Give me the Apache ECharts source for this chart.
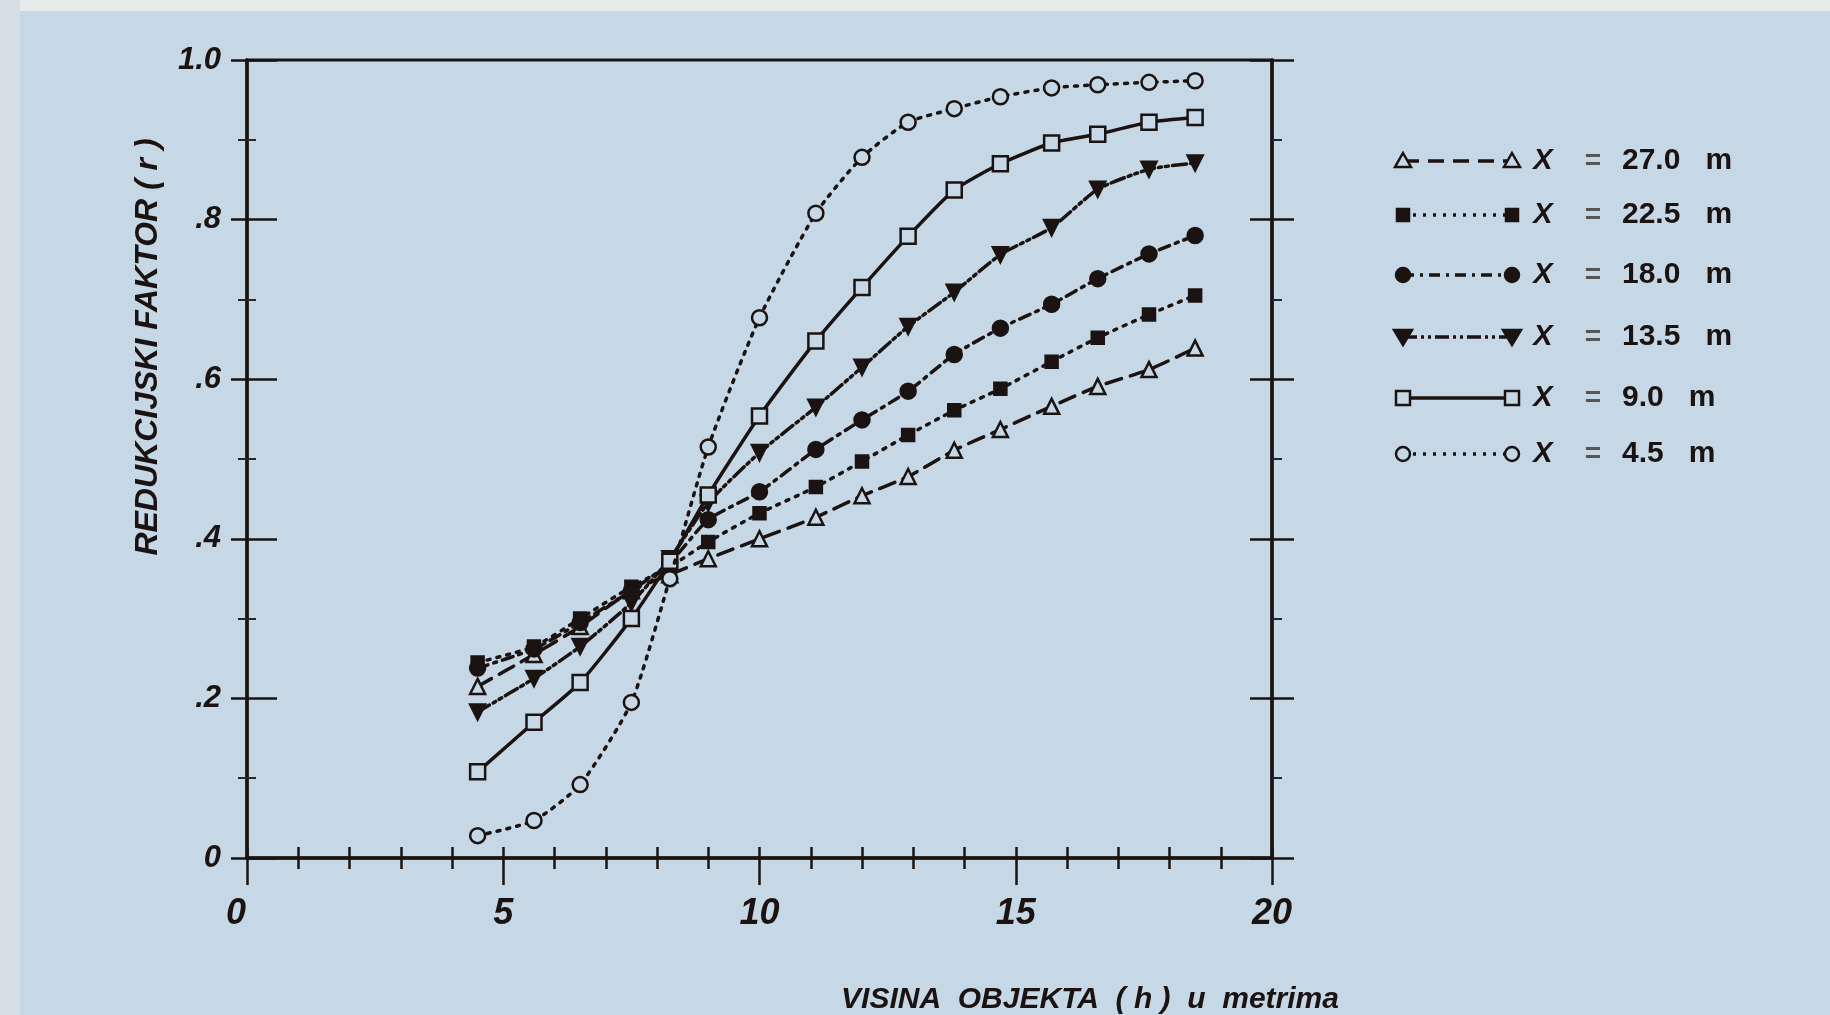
<!DOCTYPE html>
<html>
<head>
<meta charset="utf-8">
<script src="https://cdn.jsdelivr.net/npm/echarts@6/dist/echarts.min.js"></script>
<style>
  html, body { margin: 0; padding: 0; background: #c6d8e6; }
  #chart { width: 1830px; height: 1015px; }
</style>
</head>
<body>
<div id="chart"></div>
<script>
// visina objekta h (m), x positions of the points
var hValues = [4.5, 5.6, 6.5, 7.5, 8.25, 9.0, 10.0, 11.1, 12.0, 12.9, 13.8, 14.7, 15.7, 16.6, 17.6, 18.5];

// redukcijski faktor r, one list per distance X
var r27 = [0.215, 0.255, 0.29, 0.335, 0.355, 0.375, 0.40, 0.427, 0.454, 0.478, 0.511, 0.537, 0.566, 0.591, 0.612, 0.639];
var r225 = [0.245, 0.265, 0.30, 0.34, 0.365, 0.396, 0.432, 0.465, 0.497, 0.53, 0.561, 0.588, 0.622, 0.652, 0.681, 0.705];
var r18 = [0.238, 0.262, 0.295, 0.335, 0.37, 0.424, 0.459, 0.512, 0.549, 0.585, 0.631, 0.664, 0.694, 0.726, 0.757, 0.78];
var r135 = [0.183, 0.225, 0.265, 0.32, 0.375, 0.445, 0.508, 0.565, 0.615, 0.666, 0.709, 0.756, 0.79, 0.838, 0.863, 0.871];
var r9 = [0.108, 0.17, 0.22, 0.30, 0.372, 0.455, 0.554, 0.648, 0.715, 0.779, 0.837, 0.87, 0.896, 0.907, 0.922, 0.928];
var r45 = [0.028, 0.047, 0.092, 0.195, 0.35, 0.515, 0.677, 0.808, 0.878, 0.922, 0.939, 0.954, 0.965, 0.969, 0.972, 0.974];

var legendValues = ['27.0', '22.5', '18.0', '13.5', '9.0', '4.5'];
var xTickLabels = ['0', '5', '10', '15', '20'];
var yTickLabels = ['0', '.2', '.4', '.6', '.8', '1.0'];

var INK = '#1b1311';
var BG = '#c6d8e6';
var FONT = '"Liberation Sans", Arial, sans-serif';

// line / marker style per curve (same order as legendValues)
var curves = [
    { data: r27,  marker: 'up',     filled: false, dash: [16, 9] },
    { data: r225, marker: 'rect',   filled: true,  dash: [3, 7] },
    { data: r18,  marker: 'circle', filled: true,  dash: [11, 6, 3, 6] },
    { data: r135, marker: 'down',   filled: true,  dash: [14, 4, 3, 4, 3, 4] },
    { data: r9,   marker: 'square', filled: false, dash: 'solid' },
    { data: r45,  marker: 'circle', filled: false, dash: [3, 7] }
];

function symbolOf(c) {
    if (c.marker === 'up' || c.marker === 'down') return 'triangle';
    if (c.marker === 'square' || c.marker === 'rect') return 'rect';
    return 'circle';
}

var series = curves.map(function (c, i) {
    return {
        name: legendValues[i],
        type: 'line',
        xAxisIndex: 0,
        yAxisIndex: 0,
        data: hValues.map(function (h, k) { return [h, c.data[k]]; }),
        smooth: 0.2,
        symbol: symbolOf(c),
        symbolRotate: c.marker === 'down' ? 180 : 0,
        symbolSize: c.marker === 'rect' ? 12 : 15,
        showAllSymbol: true,
        lineStyle: { color: INK, width: 3.5, type: c.dash, cap: 'round' },
        itemStyle: {
            color: c.filled ? INK : BG,
            borderColor: INK,
            borderWidth: 2.5,
            opacity: 1
        },
        emphasis: { disabled: true },
        animation: false,
        z: 5 + i
    };
});

// legend drawn by hand, markers at both ends of the sample line
function legendMarker(c, cx, cy) {
    var style = { fill: c.filled ? INK : BG, stroke: INK, lineWidth: 2.5 };
    if (c.marker === 'circle') return { type: 'circle', shape: { cx: cx, cy: cy, r: 7 }, style: style };
    if (c.marker === 'rect') return { type: 'rect', shape: { x: cx - 6, y: cy - 6, width: 12, height: 12 }, style: style };
    if (c.marker === 'square') return { type: 'rect', shape: { x: cx - 7, y: cy - 7, width: 14, height: 14 }, style: style };
    if (c.marker === 'up') return { type: 'polygon', shape: { points: [[cx, cy - 8], [cx + 8, cy + 6], [cx - 8, cy + 6]] }, style: style };
    return { type: 'polygon', shape: { points: [[cx - 9, cy - 7], [cx + 9, cy - 7], [cx, cy + 8]] }, style: style };
}

var legendRowsY = [161, 215, 275, 337, 398, 454];
var graphics = [
    { type: 'rect', shape: { x: 0, y: 0, width: 1830, height: 11 }, style: { fill: '#e7ebe9' }, silent: true },
    { type: 'rect', shape: { x: 0, y: 0, width: 20, height: 1015 }, style: { fill: '#d6dfe6' }, silent: true },
    {
        type: 'text', x: 148, y: 347, rotation: Math.PI / 2,
        style: { text: 'REDUKCIJSKI FAKTOR ( r )', fill: INK, font: 'italic bold 32px ' + FONT, align: 'center', verticalAlign: 'middle' }
    },
    {
        type: 'text', x: 1090, y: 1000,
        style: { text: 'VISINA  OBJEKTA  ( h )  u  metrima', fill: INK, font: 'italic bold 30px ' + FONT, align: 'center', verticalAlign: 'middle' }
    }
];
curves.forEach(function (c, i) {
    var y = legendRowsY[i];
    graphics.push({
        type: 'line', shape: { x1: 1403, y1: y, x2: 1512, y2: y },
        style: { stroke: INK, lineWidth: 3.5, lineDash: c.dash === 'solid' ? null : c.dash }
    });
    graphics.push(legendMarker(c, 1403, y));
    graphics.push(legendMarker(c, 1512, y));
    graphics.push({ type: 'text', x: 1543, y: y, style: { text: 'X', fill: INK, font: 'italic bold 29px ' + FONT, align: 'center', verticalAlign: 'middle' } });
    graphics.push({ type: 'text', x: 1593, y: y, style: { text: '=', fill: '#555', font: 'bold 28px ' + FONT, align: 'center', verticalAlign: 'middle' } });
    graphics.push({ type: 'text', x: 1622, y: y, style: { text: legendValues[i] + '   m', fill: INK, font: 'bold 30px ' + FONT, align: 'left', verticalAlign: 'middle' } });
});

var axisLineStyle = { color: INK, width: 3.5 };
var tickStyle = { color: INK, width: 2.5 };

var myChart = echarts.init(document.getElementById('chart'), null, { renderer: 'canvas' });

var option = {
    backgroundColor: BG,
    animation: false,
    grid: {
        left: 247, right: 558, top: 60, bottom: 157,
        show: true, borderColor: INK, borderWidth: 3, backgroundColor: 'transparent'
    },
    xAxis: [
        { // main axis, small ticks outward
            type: 'value', min: 0, max: 20, interval: 1, position: 'bottom',
            axisLine: { show: true, onZero: false, lineStyle: axisLineStyle },
            axisTick: { show: true, length: 11, lineStyle: tickStyle },
            axisLabel: { show: false },
            splitLine: { show: false }
        },
        { // small ticks inward
            type: 'value', min: 0, max: 20, interval: 1, position: 'bottom',
            axisLine: { show: false, onZero: false },
            axisTick: { show: true, inside: true, length: 11, lineStyle: tickStyle },
            axisLabel: { show: false },
            splitLine: { show: false }
        },
        { // long ticks + labels every 5
            type: 'value', min: 0, max: 20, interval: 5, position: 'bottom',
            axisLine: { show: false, onZero: false },
            axisTick: { show: true, length: 27, lineStyle: tickStyle },
            axisLabel: {
                show: true, margin: 38, color: INK,
                fontFamily: FONT, fontStyle: 'italic', fontWeight: 'bold', fontSize: 36,
                formatter: function (v) { return v === 0 ? '{z|0}' : xTickLabels[Math.round(v / 5)]; },
                rich: { z: { padding: [0, 22, 0, 0], fontFamily: FONT, fontStyle: 'italic', fontWeight: 'bold', fontSize: 36, color: INK } }
            },
            splitLine: { show: false }
        }
    ],
    yAxis: [
        {
            type: 'value', min: 0, max: 1, interval: 0.2, position: 'left',
            axisLine: { show: true, onZero: false, lineStyle: axisLineStyle },
            axisTick: { show: true, length: 16, lineStyle: tickStyle },
            minorTick: { show: true, splitNumber: 2, length: 9, lineStyle: { color: '#2a2624', width: 2 } },
            axisLabel: {
                show: true, margin: 26, color: INK,
                fontFamily: FONT, fontStyle: 'italic', fontWeight: 'bold', fontSize: 31,
                formatter: function (v) { return yTickLabels[Math.round(v / 0.2)]; }
            },
            splitLine: { show: false }, minorSplitLine: { show: false }
        },
        {
            type: 'value', min: 0, max: 1, interval: 0.2, position: 'left',
            axisLine: { show: false, onZero: false },
            axisTick: { show: true, inside: true, length: 30, lineStyle: tickStyle },
            minorTick: { show: true, splitNumber: 2, length: 9, lineStyle: { color: '#2a2624', width: 2 } },
            axisLabel: { show: false },
            splitLine: { show: false }, minorSplitLine: { show: false }
        },
        {
            type: 'value', min: 0, max: 1, interval: 0.2, position: 'right',
            axisLine: { show: true, onZero: false, lineStyle: axisLineStyle },
            axisTick: { show: true, length: 22, lineStyle: tickStyle },
            minorTick: { show: true, splitNumber: 2, length: 10, lineStyle: { color: '#2a2624', width: 2 } },
            axisLabel: { show: false },
            splitLine: { show: false }, minorSplitLine: { show: false }
        },
        {
            type: 'value', min: 0, max: 1, interval: 0.2, position: 'right',
            axisLine: { show: false, onZero: false },
            axisTick: { show: true, inside: true, length: 22, lineStyle: tickStyle },
            axisLabel: { show: false },
            splitLine: { show: false }, minorSplitLine: { show: false }
        }
    ],
    series: series,
    graphic: graphics
};

myChart.setOption(option);

window.addEventListener('resize', function () {
    myChart.resize();
});
</script>
</body>
</html>
